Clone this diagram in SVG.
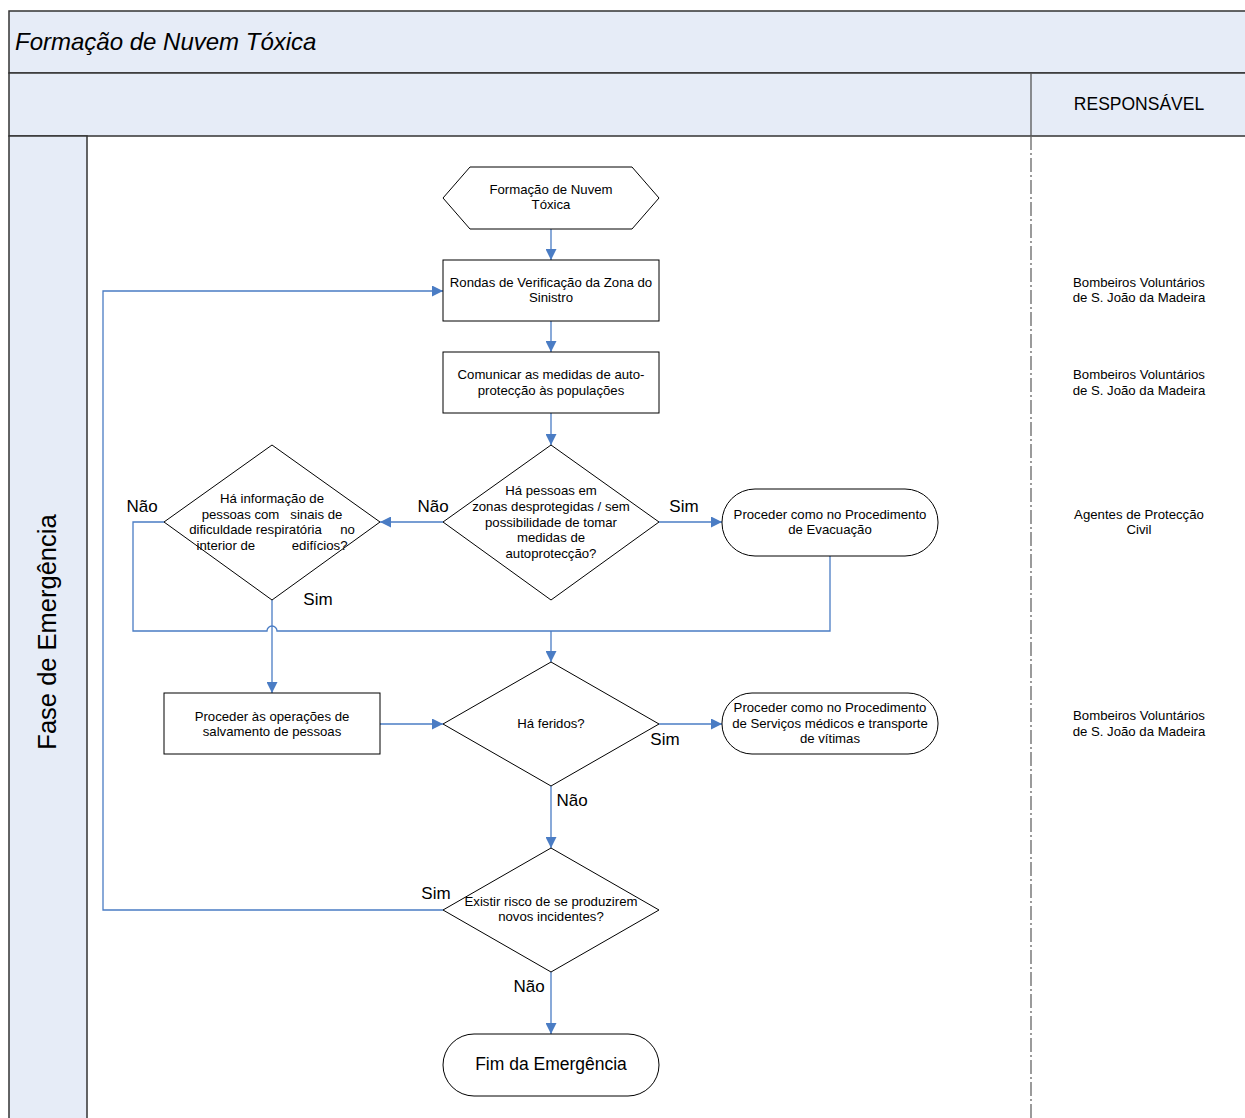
<svg xmlns="http://www.w3.org/2000/svg" width="1245" height="1118" viewBox="0 0 1245 1118">
<defs>
<marker id="ah" viewBox="0 0 10 10" refX="10" refY="5" markerWidth="11" markerHeight="11" markerUnits="userSpaceOnUse" orient="auto">
<path d="M0,0 L10,5 L0,10 z" fill="#4A7CC4"/>
</marker>
<style>
.lane{fill:#E6ECF7;stroke:#333;stroke-width:1.5}
.shape{fill:#fff;stroke:#000;stroke-width:1}
.t{font-family:"Liberation Sans",Arial,sans-serif;font-size:13.2px;fill:#000;text-anchor:middle}
.lbl{font-family:"Liberation Sans",Arial,sans-serif;font-size:17px;fill:#000;text-anchor:middle}
.c{fill:none;stroke:#4A7CC4;stroke-width:1.3}
.ca{fill:none;stroke:#4A7CC4;stroke-width:1.3;marker-end:url(#ah)}
</style>
</defs>
<rect width="1245" height="1118" fill="#fff"/>
<g id="pool">
<rect class="lane" x="9" y="11" width="1245" height="62"/>
<rect class="lane" x="9" y="73" width="1245" height="63"/>
<rect class="lane" x="9" y="136" width="78" height="990"/>
<line x1="1031" y1="73" x2="1031" y2="136" stroke="#555" stroke-width="1.3"/>
<line x1="1031" y1="136" x2="1031" y2="1118" stroke="#666" stroke-width="1.3" stroke-dasharray="14,3,2,3"/>
<text x="15" y="50" font-family="Liberation Sans,Arial,sans-serif" font-style="italic" font-size="24" fill="#000">Formação de Nuvem Tóxica</text>
<text x="1139" y="110" font-family="Liberation Sans,Arial,sans-serif" font-size="17.5" text-anchor="middle" fill="#000">RESPONSÁVEL</text>
<text transform="translate(56,632) rotate(-90)" font-family="Liberation Sans,Arial,sans-serif" font-size="25.5" text-anchor="middle" fill="#000">Fase de Emergência</text>
</g>
<g id="responsaveis">
<text class="t" x="1139" y="287">Bombeiros Voluntários</text>
<text class="t" x="1139" y="302">de S. João da Madeira</text>
<text class="t" x="1139" y="379">Bombeiros Voluntários</text>
<text class="t" x="1139" y="395">de S. João da Madeira</text>
<text class="t" x="1139" y="519">Agentes de Protecção</text>
<text class="t" x="1139" y="534">Civil</text>
<text class="t" x="1139" y="720">Bombeiros Voluntários</text>
<text class="t" x="1139" y="736">de S. João da Madeira</text>
</g>
<g id="connectors">
<line class="ca" x1="551" y1="229" x2="551" y2="260"/>
<line class="ca" x1="551" y1="321" x2="551" y2="352"/>
<line class="ca" x1="551" y1="413" x2="551" y2="445"/>
<line class="ca" x1="443" y1="522" x2="380" y2="522"/>
<line class="ca" x1="659" y1="522" x2="722" y2="522"/>
<path class="c" d="M164,522 H133 V631 H267 A5,5 0 0 1 277,631 H551"/>
<path class="c" d="M830,556 V631 H551"/>
<line class="ca" x1="551" y1="631" x2="551" y2="662"/>
<line class="ca" x1="272" y1="600" x2="272" y2="693"/>
<line class="ca" x1="380" y1="724" x2="443" y2="724"/>
<line class="ca" x1="659" y1="724" x2="722" y2="724"/>
<line class="ca" x1="551" y1="786" x2="551" y2="848"/>
<path class="ca" d="M443,910 H103 V291 H443"/>
<line class="ca" x1="551" y1="972" x2="551" y2="1034"/>
<text class="lbl" x="433" y="512">Não</text>
<text class="lbl" x="684" y="512">Sim</text>
<text class="lbl" x="142" y="512">Não</text>
<text class="lbl" x="318" y="605">Sim</text>
<text class="lbl" x="665" y="745">Sim</text>
<text class="lbl" x="572" y="806">Não</text>
<text class="lbl" x="436" y="899">Sim</text>
<text class="lbl" x="529" y="992">Não</text>
</g>
<g id="n-inicio">
<polygon class="shape" points="443,198 470,167 632,167 659,198 632,229 470,229"/>
<text class="t" x="551" y="194">Formação de Nuvem</text>
<text class="t" x="551" y="209">Tóxica</text>
</g>
<g id="n-rondas">
<rect class="shape" x="443" y="260" width="216" height="61"/>
<text class="t" x="551" y="287">Rondas de Verificação da Zona do</text>
<text class="t" x="551" y="302">Sinistro</text>
</g>
<g id="n-comunicar">
<rect class="shape" x="443" y="352" width="216" height="61"/>
<text class="t" x="551" y="379">Comunicar as medidas de auto-</text>
<text class="t" x="551" y="395">protecção às populações</text>
</g>
<g id="n-pessoas">
<polygon class="shape" points="551,445 659,522 551,600 443,522"/>
<text class="t" x="551" y="495">Há pessoas em</text>
<text class="t" x="551" y="511">zonas desprotegidas / sem</text>
<text class="t" x="551" y="527">possibilidade de tomar</text>
<text class="t" x="551" y="542">medidas de</text>
<text class="t" x="551" y="558">autoprotecção?</text>
</g>
<g id="n-informacao">
<polygon class="shape" points="272,445 380,522 272,600 164,522"/>
<text class="t" x="272" y="503">Há informação de</text>
<text class="t" x="272" y="519" xml:space="preserve">pessoas com   sinais de</text>
<text class="t" x="272" y="534" xml:space="preserve">dificuldade respiratória     no</text>
<text class="t" x="272" y="550" xml:space="preserve">interior de          edifícios?</text>
</g>
<g id="n-evacuacao">
<rect class="shape" x="722" y="489" width="216" height="67" rx="33" ry="33"/>
<text class="t" x="830" y="519">Proceder como no Procedimento</text>
<text class="t" x="830" y="534">de Evacuação</text>
</g>
<g id="n-salvamento">
<rect class="shape" x="164" y="693" width="216" height="61"/>
<text class="t" x="272" y="721">Proceder às operações de</text>
<text class="t" x="272" y="736">salvamento de pessoas</text>
</g>
<g id="n-feridos">
<polygon class="shape" points="551,662 659,724 551,786 443,724"/>
<text class="t" x="551" y="728">Há feridos?</text>
</g>
<g id="n-servicos">
<rect class="shape" x="722" y="693" width="216" height="61" rx="30" ry="30"/>
<text class="t" x="830" y="712">Proceder como no Procedimento</text>
<text class="t" x="830" y="728">de Serviços médicos e transporte</text>
<text class="t" x="830" y="743">de vítimas</text>
</g>
<g id="n-risco">
<polygon class="shape" points="551,848 659,910 551,972 443,910"/>
<text class="t" x="551" y="906">Existir risco de se produzirem</text>
<text class="t" x="551" y="921">novos incidentes?</text>
</g>
<g id="n-fim">
<rect class="shape" x="443" y="1034" width="216" height="62" rx="31" ry="31"/>
<text x="551" y="1070" font-family="Liberation Sans,Arial,sans-serif" font-size="17.5" text-anchor="middle" fill="#000">Fim da Emergência</text>
</g>
</svg>
